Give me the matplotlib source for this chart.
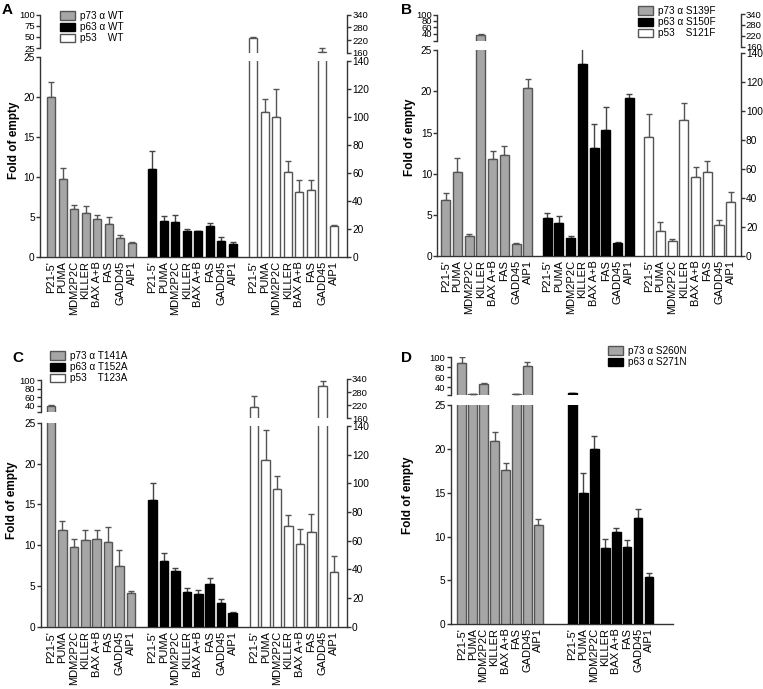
"""Four broken-axis bar panels (A-D): fold of empty per target gene."""
import numpy as np
import matplotlib

matplotlib.use("Agg")
import matplotlib.pyplot as plt  # noqa: E402
from matplotlib.patches import Patch  # noqa: E402

plt.rcParams["font.family"] = ["Liberation Sans", "DejaVu Sans"]

GENES = ["P21-5'", "PUMA", "MDM2P2C", "KILLER", "BAX A+B", "FAS", "GADD45", "AIP1"]

# panel A: wild type
a_p73 = [20.0, 9.7, 5.95, 5.45, 4.75, 4.1, 2.4, 1.8]
a_p73_err = [1.9, 1.4, 0.6, 0.95, 0.45, 0.95, 0.35, 0.1]
a_p63 = [11.0, 4.5, 4.4, 3.2, 3.25, 3.9, 2.05, 1.65]
a_p63_err = [2.2, 0.65, 0.8, 0.35, 0.05, 0.4, 0.5, 0.25]
a_p53 = [231, 103.6, 100.2, 61, 46.5, 48, 165, 22.1]
a_p53_err = [4, 9.5, 20, 7.6, 8.5, 7, 16, 0.8]

# panel B
b_p73 = [6.8, 10.2, 2.4, 34, 11.75, 12.25, 1.45, 20.4]
b_p73_err = [0.9, 1.7, 0.25, 3, 1.05, 1.1, 0.15, 1.1]
b_p63 = [4.65, 3.95, 2.2, 23.3, 13.1, 15.3, 1.6, 19.2]
b_p63_err = [0.6, 0.9, 0.25, 2.2, 3.0, 2.8, 0.12, 0.45]
b_p53 = [82, 17.5, 10.6, 93.7, 54.7, 57.7, 21.4, 37.5]
b_p53_err = [16, 5.7, 1.1, 12, 6.3, 7.8, 3.4, 6.4]

# panel C
c_p73 = [39, 11.9, 9.8, 10.6, 10.8, 10.4, 7.4, 4.1]
c_p73_err = [3, 1.1, 0.9, 1.2, 1.0, 1.8, 2.0, 0.3]
c_p63 = [15.5, 8.0, 6.85, 4.3, 4.05, 5.2, 2.95, 1.65]
c_p63_err = [2.1, 1.05, 0.4, 0.5, 0.45, 0.8, 0.4, 0.2]
c_p53 = [213, 116, 96, 70.4, 57.6, 66.4, 310, 38.5]
c_p53_err = [50, 21, 8.8, 7.7, 10.5, 12.4, 20, 10.5]

# panel D
d_p73 = [88, 27, 46.5, 20.9, 17.6, 27, 83, 11.35]
d_p73_err = [12, 0.5, 2.5, 1.0, 0.8, 0.5, 7, 0.6]
d_p63 = [28, 15.0, 20.0, 8.7, 10.5, 8.8, 12.1, 5.4]
d_p63_err = [0.5, 2.3, 1.5, 1.0, 0.5, 0.8, 1.0, 0.4]

LEG_A = ["p73 \u03b1 WT", "p63 \u03b1 WT", "p53    WT"]
LEG_B = ["p73 \u03b1 S139F", "p63 \u03b1 S150F", "p53    S121F"]
LEG_C = ["p73 \u03b1 T141A", "p63 \u03b1 T152A", "p53    T123A"]
LEG_D = ["p73 \u03b1 S260N", "p63 \u03b1 S271N"]

W, H = 763, 689
FS = 7.3
FS_X = 8
FS_UP = 6.8
FS_LEG = 7.2
SPINE = "#333333"
STYLE = {
    "gray": dict(fc="#a6a6a6", ec="#555555", err="#555555"),
    "black": dict(fc="#000000", ec="#000000", err="#444444"),
    "white": dict(fc="#ffffff", ec="#555555", err="#555555"),
}

fig = plt.figure(figsize=(W / 100, H / 100), dpi=100)


def box(x0, x1, ytop, ybot):
    return [x0 / W, 1 - ybot / H, (x1 - x0) / W, (ybot - ytop) / H]


def new_ax(rect, xlim, ylim, side, bottom=False, fs=FS):
    ax = fig.add_axes(rect)
    ax.set_facecolor("none")
    ax.set_xlim(*xlim)
    ax.set_ylim(*ylim)
    for s in ("top", "left", "right", "bottom"):
        ax.spines[s].set_visible(False)
    ax.spines[side].set_visible(True)
    ax.spines[side].set_color(SPINE)
    ax.spines[side].set_linewidth(1)
    if bottom:
        ax.spines["bottom"].set_visible(True)
        ax.spines["bottom"].set_color(SPINE)
        ax.spines["bottom"].set_linewidth(1)
    if side == "right":
        ax.yaxis.tick_right()
    ax.tick_params(axis="y", length=3, width=1, color=SPINE, labelsize=fs, pad=0.8)
    ax.tick_params(axis="x", length=0, labelbottom=bottom)
    if not bottom:
        ax.set_xticks([])
    return ax


def bars(ax, x, vals, errs, kind, width, only_above=None):
    x, vals, errs = np.asarray(x), np.asarray(vals, float), np.asarray(errs, float)
    if only_above is not None:
        keep = vals > only_above
        x, vals, errs = x[keep], vals[keep], errs[keep]
    if len(x) == 0:
        return
    st = STYLE[kind]
    ax.bar(x, vals, width, color=st["fc"], edgecolor=st["ec"], linewidth=1, zorder=3)
    ax.errorbar(x, vals, yerr=[np.zeros_like(errs), errs], fmt="none",
                ecolor=st["err"], elinewidth=1, capsize=2.5, capthick=1, zorder=2)


def panel(x0, x1, ll, ul, ul_lim, ul_ticks, xlim, gap, width, groups, lr=None, ur=None):
    ax_ll = new_ax(box(x0, x1, *ll), xlim, (0, 25), "left", bottom=True)
    ax_ll.set_yticks([0, 5, 10, 15, 20, 25])
    ax_ul = new_ax(box(x0, x1, *ul), xlim, ul_lim, "left", fs=FS_UP)
    ax_ul.set_yticks(ul_ticks)
    if ul_ticks[0] != 25:
        ax_ul.set_yticks([ul_lim[0]] + ul_ticks, [""] + [str(t) for t in ul_ticks])
    ax_ul.spines["left"].set_bounds(ul_lim[0], 100)
    ax_lr = ax_ur = None
    if lr is not None:
        ax_lr = new_ax(box(x0, x1, *lr), xlim, (0, 140), "right")
        ax_lr.set_yticks(range(0, 141, 20))
        ax_ur = new_ax(box(x0, x1, *ur), xlim, (160, 340), "right", fs=FS_UP)
        ax_ur.set_yticks([160, 220, 280, 340])

    ticks, labels = [], []
    for g, (vals, errs, kind) in enumerate(groups):
        x = g * gap + np.arange(len(vals))
        ticks += list(x)
        labels += GENES
        if kind == "white":
            bars(ax_lr, x, vals, errs, kind, width)
            bars(ax_ur, x, vals, errs, kind, width, only_above=140)
        else:
            bars(ax_ll, x, vals, errs, kind, width)
            bars(ax_ul, x, vals, errs, kind, width, only_above=25)
    ax_ll.set_xticks(ticks)
    ax_ll.set_xticklabels(labels, rotation=90, fontsize=FS_X)
    ax_ll.tick_params(axis="x", pad=3)


def legend(labels, kinds, x, y):
    handles = [Patch(facecolor=STYLE[k]["fc"], edgecolor=STYLE[k]["ec"], linewidth=1)
               for k in kinds]
    fig.legend(handles, labels, loc="upper left", bbox_to_anchor=(x / W, 1 - y / H),
               frameon=False, fontsize=FS_LEG, handlelength=1.5, handleheight=0.9,
               handletextpad=0.45, labelspacing=0.12, borderpad=0, borderaxespad=0)


KINDS = ["gray", "black", "white"]

panel(40, 347, (57, 257), (14.7, 48), (25, 100), [25, 50, 75, 100],
      (-0.96, 25.74), 8.8, 0.7,
      [(a_p73, a_p73_err, "gray"), (a_p63, a_p63_err, "black"), (a_p53, a_p53_err, "white")],
      lr=(61, 257), ur=(14.7, 52.7))
panel(437.3, 740.7, (50.3, 256), (14.5, 40.5), (18, 100), [40, 60, 80, 100],
      (-0.72, 25.15), 8.65, 0.77,
      [(b_p73, b_p73_err, "gray"), (b_p63, b_p63_err, "black"), (b_p53, b_p53_err, "white")],
      lr=(52.7, 256), ur=(14, 46.7))
panel(40.7, 346.7, (422.7, 626.7), (380, 412), (26, 100), [40, 60, 80, 100],
      (-0.9, 25.9), 8.9, 0.75,
      [(c_p73, c_p73_err, "gray"), (c_p63, c_p63_err, "black"), (c_p53, c_p53_err, "white")],
      lr=(426, 626.7), ur=(379, 418.3))
panel(450.7, 673.3, (405.3, 624), (357.3, 395), (25, 100), [40, 60, 80, 100],
      (-1.0, 19.3), 10.1, 0.77,
      [(d_p73, d_p73_err, "gray"), (d_p63, d_p63_err, "black")])

legend(LEG_A, KINDS, 60, 11)
legend(LEG_B, KINDS, 638, 6)
legend(LEG_C, KINDS, 50, 351)
legend(LEG_D, KINDS[:2], 608, 346)

for letter, x, y in (("A", 2, 3), ("B", 401, 3), ("C", 12, 351), ("D", 401, 351)):
    fig.text(x / W, 1 - y / H, letter, fontsize=11, fontweight="bold", va="top", ha="left")
for x, y in ((14, 140), (410, 137), (12, 500), (408, 495)):
    fig.text(x / W, 1 - y / H, "Fold of empty", fontsize=8.5, fontweight="bold",
             rotation=90, va="center", ha="center")

fig.savefig("out.png", dpi=100)
